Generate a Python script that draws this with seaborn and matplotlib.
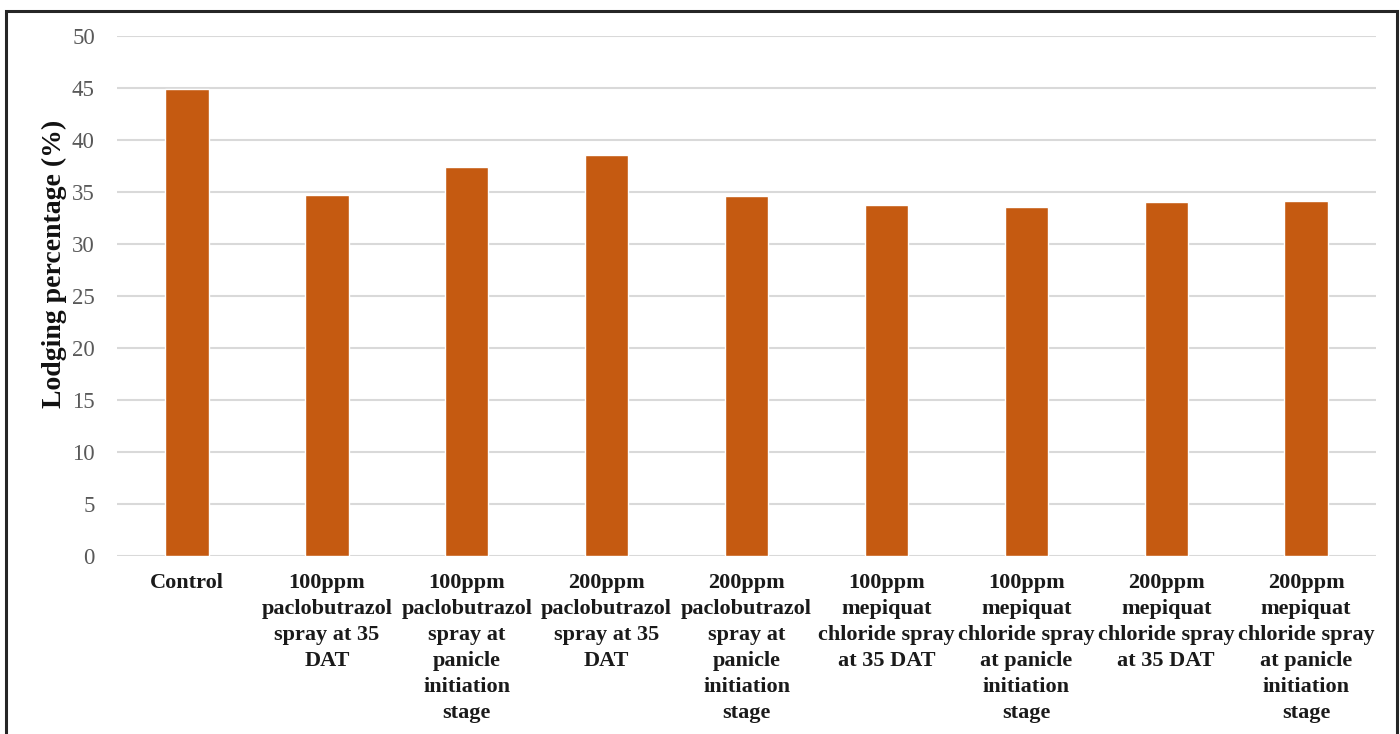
import matplotlib
matplotlib.use("Agg")
import matplotlib.pyplot as plt
from matplotlib.patches import Rectangle
import seaborn as sns
import pandas as pd

treatments = [
    "Control",
    "100ppm\npaclobutrazol\nspray at 35\nDAT",
    "100ppm\npaclobutrazol\nspray at\npanicle\ninitiation\nstage",
    "200ppm\npaclobutrazol\nspray at 35\nDAT",
    "200ppm\npaclobutrazol\nspray at\npanicle\ninitiation\nstage",
    "100ppm\nmepiquat\nchloride spray\nat 35 DAT",
    "100ppm\nmepiquat\nchloride spray\nat panicle\ninitiation\nstage",
    "200ppm\nmepiquat\nchloride spray\nat 35 DAT",
    "200ppm\nmepiquat\nchloride spray\nat panicle\ninitiation\nstage",
]
lodging = [44.9, 34.7, 37.4, 38.6, 34.6, 33.7, 33.6, 34.0, 34.1]
y_ticks = [0, 5, 10, 15, 20, 25, 30, 35, 40, 45, 50]

df = pd.DataFrame({"treatment": treatments, "lodging": lodging})

sns.set_theme(style="white")
plt.rcParams["font.family"] = ["Liberation Serif", "DejaVu Serif"]

fig = plt.figure(figsize=(14, 7.34), dpi=100)
ax = fig.add_axes([0.0836, 0.2425, 0.8993, 0.7085])

sns.barplot(data=df, x="treatment", y="lodging", color="#C55A11",
            saturation=1, width=0.31, ax=ax, zorder=3)

ax.set_ylim(0, 50)
ax.set_yticks(y_ticks)
ax.set_xlim(-0.5, len(treatments) - 0.5)
ax.yaxis.grid(True, color="#D9D9D9", linewidth=1.5, zorder=0)
ax.set_axisbelow(True)
for s in ax.spines.values():
    s.set_visible(False)

ax.tick_params(axis="y", length=0, pad=16, labelsize=16.5, labelcolor="#595959")
ax.tick_params(axis="x", length=0, pad=12)
ax.set_xticks(range(len(treatments)))
ax.set_xticklabels(treatments, fontsize=16, fontweight="bold", color="#1a1a1a",
                   linespacing=1.4, va="top")
ax.set_xlabel("")
ax.set_ylabel("Lodging percentage (%)", fontsize=20, fontweight="bold",
              color="#111111")
ax.yaxis.set_label_coords(-0.0395, 0.5615)

# outer frame of the figure
fig.patches.append(Rectangle((6 / 1400, -0.1), 1391 / 1400, 1.1 - 11 / 734,
                             transform=fig.transFigure, fill=False,
                             edgecolor="#262626", linewidth=2.2))

fig.savefig("out.png", dpi=100)
